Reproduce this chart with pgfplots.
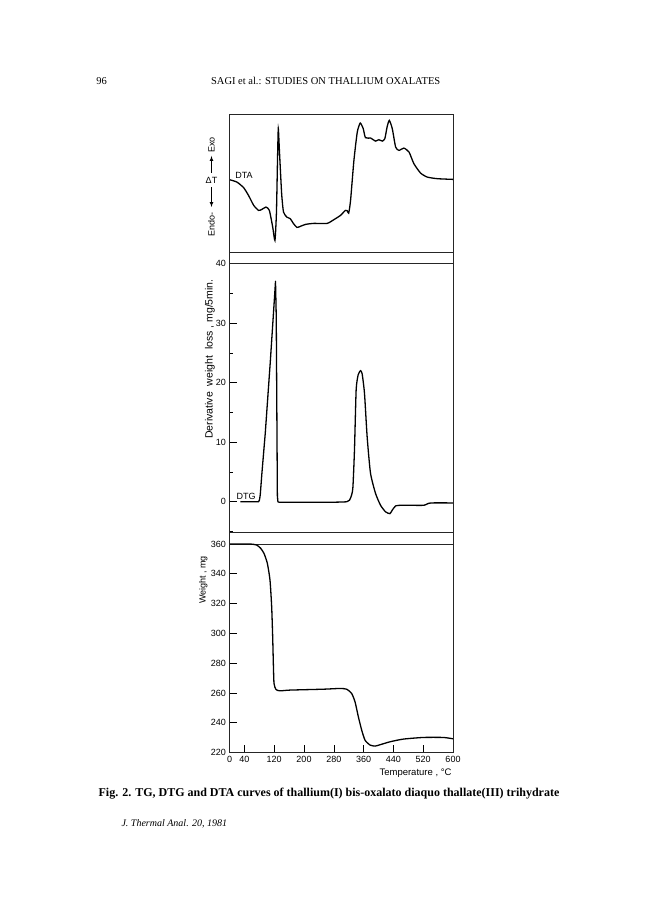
\documentclass[border=0pt]{standalone}
\usepackage{pgfplots}
\pgfplotsset{compat=1.18}
\usepackage{fontspec}
\setmainfont{Liberation Serif}
\setsansfont{Liberation Sans}
\begin{document}
\begin{tikzpicture}[x=1pt,y=1pt]
\fill[white] (0pt,0pt) rectangle (648pt,907pt);
\useasboundingbox (0pt,0pt) rectangle (648pt,907pt);
\pgfplotsset{
  panel/.style={
    scale only axis, width=223.5pt, xmin=0, xmax=600,
    axis line style={line width=0.7pt, black!85},
    every tick/.style={black, line width=0.6pt},
    major tick length=7pt, minor tick length=3.5pt,
    tick align=inside,
    ytick pos=left, xtick pos=bottom,
    tick label style={font=\sffamily\fontsize{9}{10}\selectfont},
    /pgf/number format/assume math mode=true,
  },
  curve/.style={black, line width=1.3pt, smooth, tension=0.35, mark=none},
  sharpcurve/.style={black, line width=1.3pt, sharp plot, mark=none, line join=round},
}
% DTA
\begin{axis}[panel, at={(229.5pt,654.3pt)}, anchor=south west, height=138.2pt,
  ymin=0, ymax=138.2, xtick=\empty, ytick=\empty]
\addplot[curve] coordinates {
(0,73) (20,70.6) (38,65) (51,57.3) (65,47.3) (78,42.3) (87,43.3) (98,45.6)
(107,42.3) (116,25.6) (122,12.3) (126,40) (129,95) (131,124) (134,102)
(140,59) (145,40.6) (154,35.6) (163,34) (172,29) (181,25.3) (190,26.3)
(204,28.3) (226,29.3) (262,29.3) (280,33) (298,37.3) (311,42.3) (316,42)
(320,39.6) (325,52.3) (334,92.3) (343,120.6) (351,129.6) (359,124) (365,115)
(379,114.6) (392,111.6) (401,113) (410,111.6) (417,114) (423,125.6) (429,132.3)
(437,124) (446,105.6) (455,102.3) (468,104.6) (482,100.6) (495,89) (513,79.6)
(531,75.6) (558,74) (600,73.3)};
\end{axis}
% DTG
\begin{axis}[panel, at={(229.5pt,374.3pt)}, anchor=south west, height=269.2pt,
  ymin=-5.2, ymax=40, xtick=\empty, ytick={0,10,20,30,40},
  minor ytick={-5,5,15,25,35}]
\addplot[sharpcurve] coordinates {
(29,0) (78,0) (80.5,0.3) (82.6,1.2) (87,4.8) (96,11.5) (109.5,23.5) (121,34.5) (123.5,37)
(125.5,31) (128.5,1) (130,0) (132,-0.1)};
\addplot[curve] coordinates {
(132,-0.1) (163,-0.1) (253,-0.1) (315,0) (324.7,0.6)
(331,2.2) (335.5,8.7) (340,18.8) (345.4,21.3) (351.6,22) (356,21.5) (362.4,18.2)
(369.5,10.9) (378.5,4.8) (392,1.4) (405.5,-0.6) (419,-1.7) (430.7,-2.0)
(437,-1.4) (446,-0.7) (459,-0.6) (486,-0.6) (522,-0.6) (533,-0.3) (545,-0.2)
(600,-0.2)};
\end{axis}
% TG
\begin{axis}[panel, at={(229.5pt,154.5pt)}, anchor=south west, height=208.5pt,
  ymin=220, ymax=360, ytick={220,240,...,360},
  xtick={0,40,120,200,280,360,440,520,600}]
\addplot[curve] coordinates {
(0,360) (55,360) (73,359.3) (83.7,357.1) (92.6,353.7) (101.6,347) (108.7,335.8)
(113.2,317.9) (115.9,297.7) (117.7,279.8) (119.5,266.4) (124.8,262.3)
(135.6,261.4) (162.4,261.9) (251.9,262.5) (296.6,263) (314.5,262.5) (328,259.6)
(337,254) (345.9,244) (354.9,235) (363.8,228.3) (377.3,225) (390.7,224.3)
(404.1,225.2) (431,227.2) (466.8,229) (520.5,230.1) (574,230.1) (600,229.2)};
\end{axis}
% frame continuation
\draw[line width=0.7pt, black!85] (229.5pt,154.5pt) -- (229.5pt,792.5pt);
\draw[line width=0.7pt, black!85] (453pt,154.5pt) -- (453pt,792.5pt);
% labels
\begin{scope}[font=\sffamily\fontsize{9}{10}\selectfont]
\node[anchor=east,font=\sffamily\fontsize{9.5}{10}\selectfont] at (455pt,134.3pt) {Temperature , °C};
\node[rotate=90] at (203.3pt,327pt) {Weight , mg};
\node[rotate=90,font=\sffamily\fontsize{10.5}{11}\selectfont] at (210pt,548pt) {Derivative\ \ weight\ \ loss ,\ mg/5min.};
\node at (244pt,732pt) {DTA};
\node at (246pt,410.3pt) {DTG};
\node[rotate=90] at (211.5pt,762pt) {Exo};
\draw[line width=0.7pt,-latex] (211.5pt,734pt) -- (211.5pt,751pt);
\node at (211.5pt,727pt) {ΔT};
\draw[line width=0.7pt,-latex] (211.5pt,720pt) -- (211.5pt,700pt);
\node[rotate=90] at (211.5pt,682pt) {Endo-};
\end{scope}
\node[font=\fontsize{10.5}{12}\selectfont] at (101.7pt,826.3pt) {96};
\node[font=\fontsize{10.5}{12}\selectfont] at (325.7pt,826.3pt) {SAGI et al.: STUDIES ON THALLIUM OXALATES};
\node[font=\bfseries\fontsize{12}{14}\selectfont] at (329pt,113pt) {Fig. 2. TG, DTG and DTA curves of thallium(I) bis-oxalato diaquo thallate(III) trihydrate};
\node[anchor=west,font=\itshape\fontsize{10}{12}\selectfont] at (118pt,82.7pt) {J. Thermal Anal. 20, 1981};
\end{tikzpicture}
\end{document}
